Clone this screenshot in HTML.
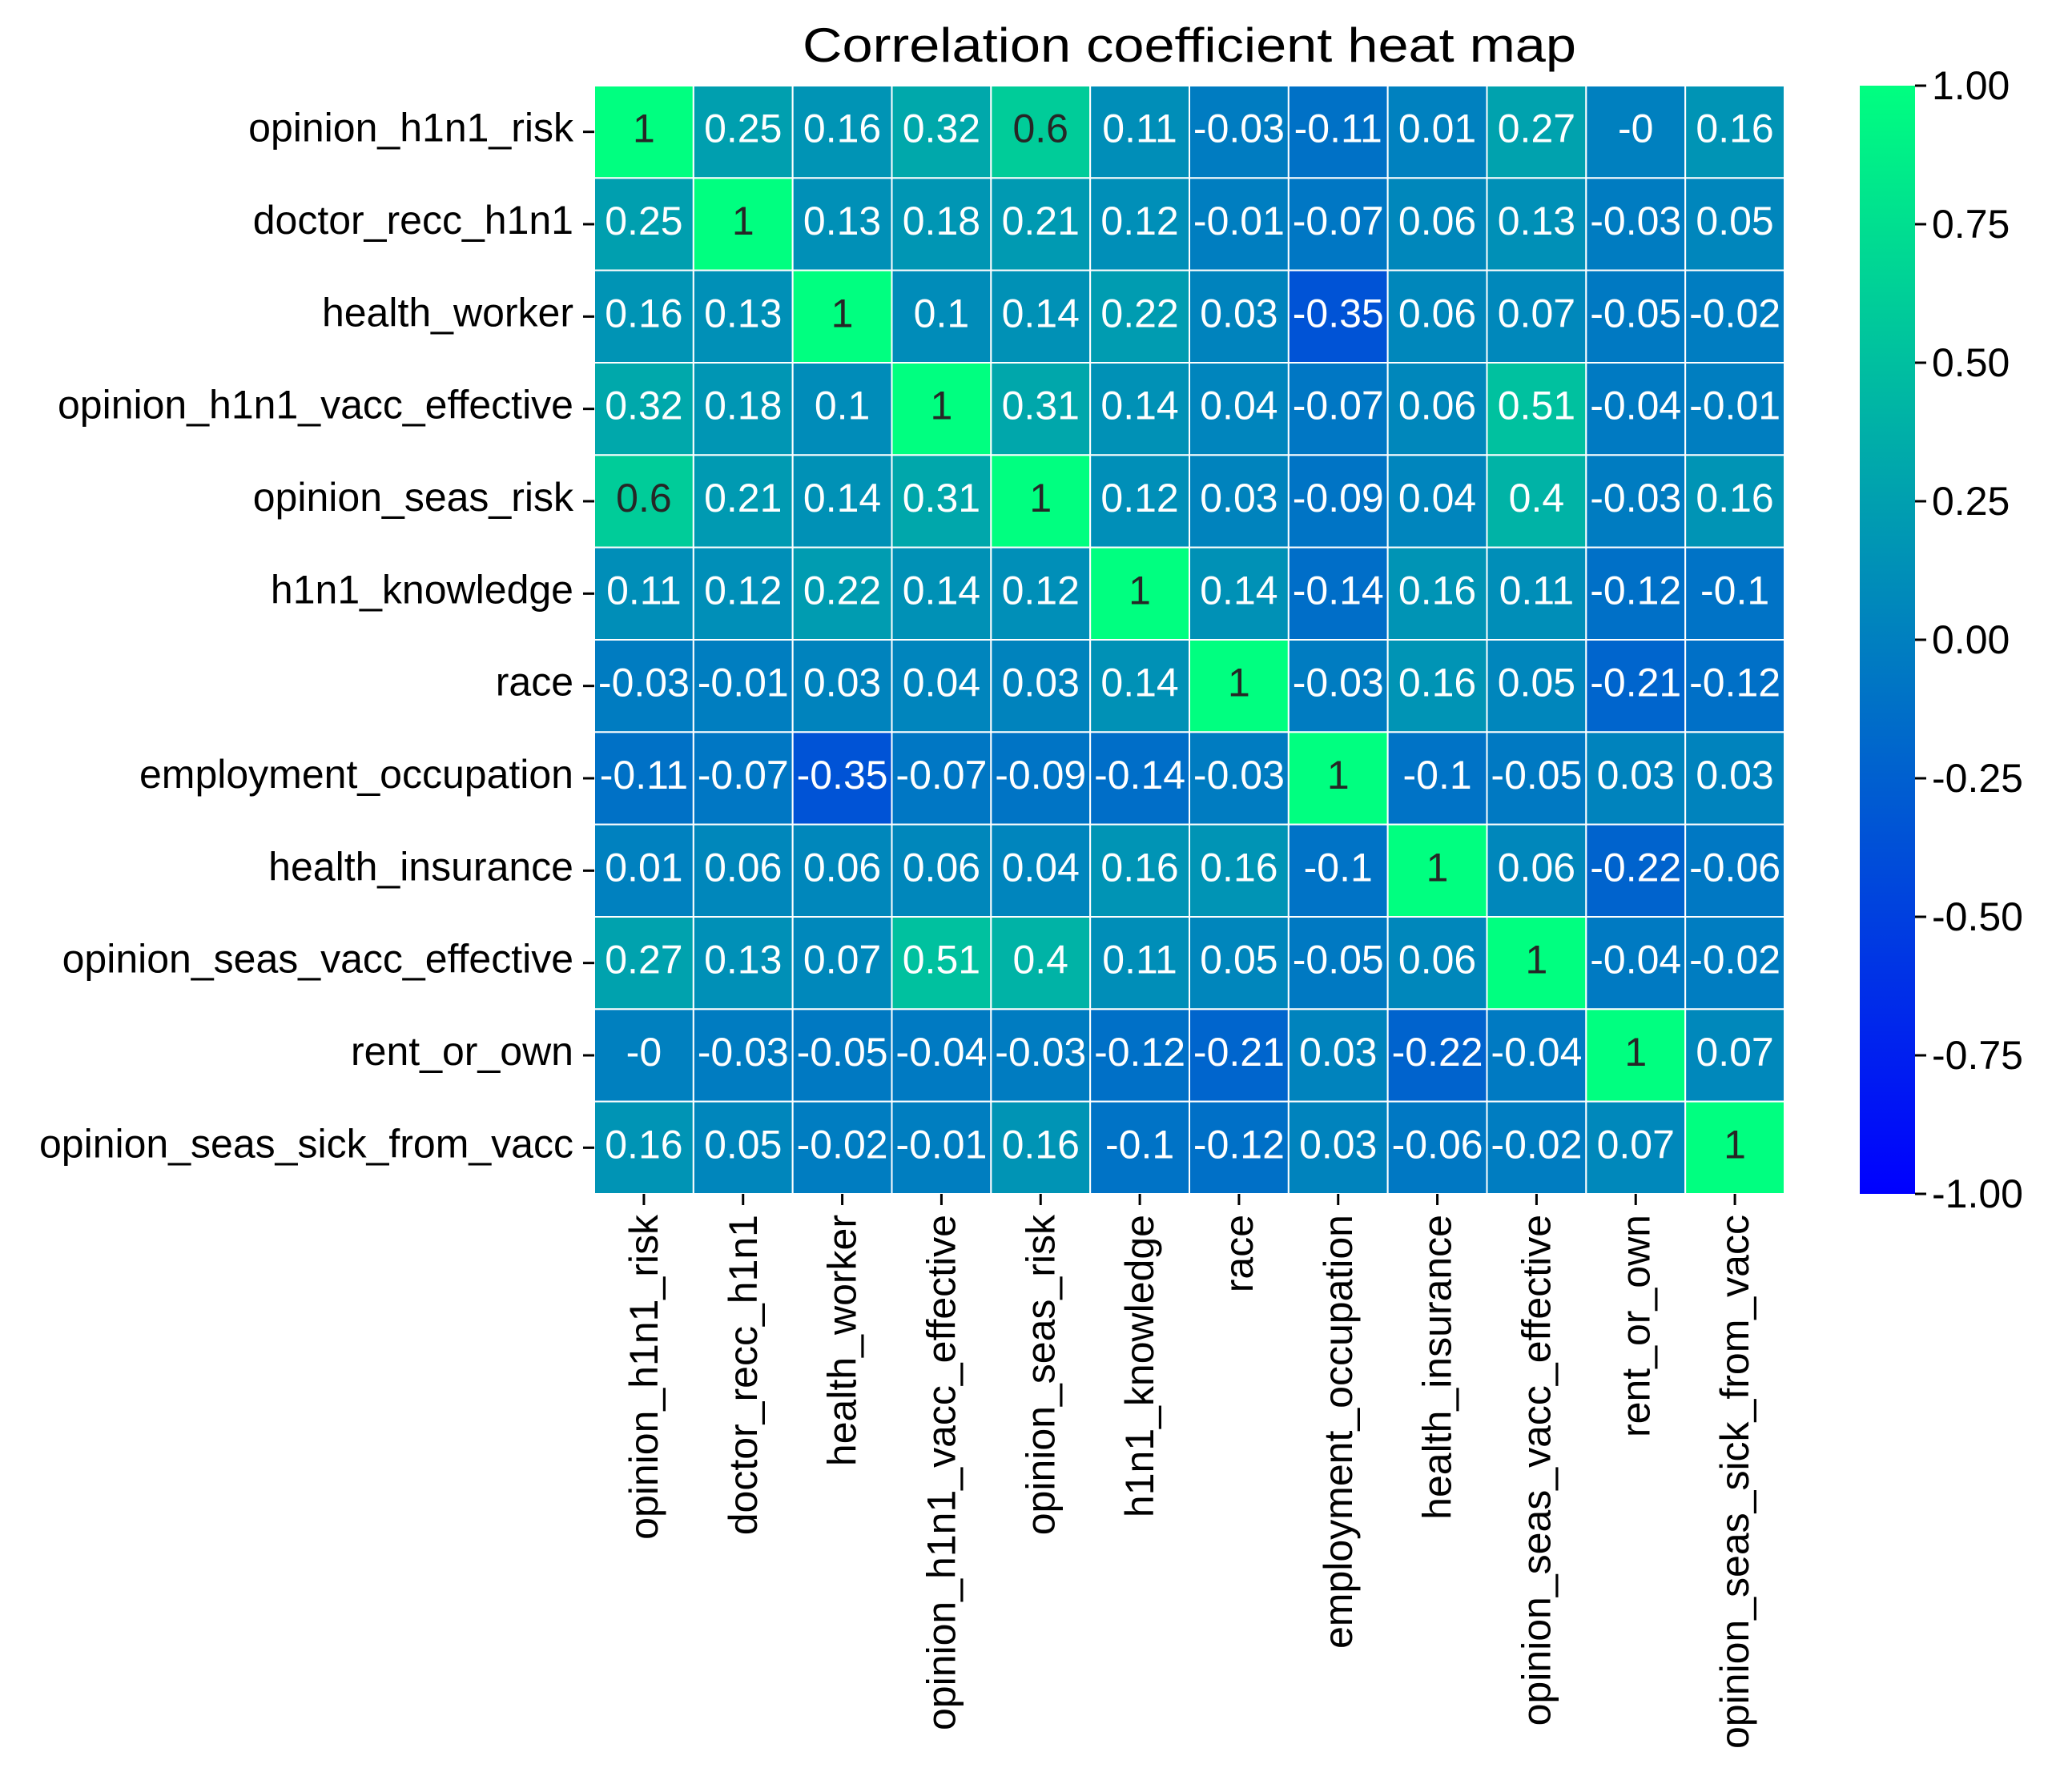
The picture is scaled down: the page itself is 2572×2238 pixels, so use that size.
<!DOCTYPE html>
<html><head><meta charset="utf-8"><style>
html,body{margin:0;padding:0;background:#fff}
svg text{font-family:"Liberation Sans",sans-serif}
</style></head><body>
<svg id="chart" width="2572" height="2233" viewBox="0 0 2572 2233" xmlns="http://www.w3.org/2000/svg">
<defs><linearGradient id="cbg" x1="0" y1="1" x2="0" y2="0"><stop offset="0" stop-color="#0000ff"/><stop offset="1" stop-color="#00ff80"/></linearGradient></defs>
<text x="1485" y="77" font-size="60" text-anchor="middle" textLength="966" lengthAdjust="spacingAndGlyphs">Correlation coefficient heat map</text>
<g id="cells"></g><g id="xt"></g><g id="yt"></g>
<rect x="2322" y="107" width="69" height="1384" fill="url(#cbg)"/>
<g id="cb"></g>
</svg>
<script>
const labels = ["opinion_h1n1_risk","doctor_recc_h1n1","health_worker","opinion_h1n1_vacc_effective","opinion_seas_risk","h1n1_knowledge","race","employment_occupation","health_insurance","opinion_seas_vacc_effective","rent_or_own","opinion_seas_sick_from_vacc"];
const values = [
[1,0.25,0.16,0.32,0.6,0.11,-0.03,-0.11,0.01,0.27,-0,0.16],
[0.25,1,0.13,0.18,0.21,0.12,-0.01,-0.07,0.06,0.13,-0.03,0.05],
[0.16,0.13,1,0.1,0.14,0.22,0.03,-0.35,0.06,0.07,-0.05,-0.02],
[0.32,0.18,0.1,1,0.31,0.14,0.04,-0.07,0.06,0.51,-0.04,-0.01],
[0.6,0.21,0.14,0.31,1,0.12,0.03,-0.09,0.04,0.4,-0.03,0.16],
[0.11,0.12,0.22,0.14,0.12,1,0.14,-0.14,0.16,0.11,-0.12,-0.1],
[-0.03,-0.01,0.03,0.04,0.03,0.14,1,-0.03,0.16,0.05,-0.21,-0.12],
[-0.11,-0.07,-0.35,-0.07,-0.09,-0.14,-0.03,1,-0.1,-0.05,0.03,0.03],
[0.01,0.06,0.06,0.06,0.04,0.16,0.16,-0.1,1,0.06,-0.22,-0.06],
[0.27,0.13,0.07,0.51,0.4,0.11,0.05,-0.05,0.06,1,-0.04,-0.02],
[-0,-0.03,-0.05,-0.04,-0.03,-0.12,-0.21,0.03,-0.22,-0.04,1,0.07],
[0.16,0.05,-0.02,-0.01,0.16,-0.1,-0.12,0.03,-0.06,-0.02,0.07,1]];
const cbTicks = [1,0.75,0.5,0.25,0,-0.25,-0.5,-0.75,-1];
const cbTickLabels = ["1.00","0.75","0.50","0.25","0.00","-0.25","-0.50","-0.75","-1.00"];

const NS="http://www.w3.org/2000/svg";
const L=742,T=107,W=1486,H=1384,n=labels.length,cw=W/n,ch=H/n;
const xs=i=>L+i*cw, ys=j=>T+j*ch;
const cbY=v=>T+H*(1-(v+1)/2);
function col(v){const t=(v+1)/2;return `rgb(0,${Math.round(255*t)},${Math.round(255-127.5*t)})`;}
function fmt(v){return (v===0&&1/v<0)?"-0":String(v);}
function mk(tag,attrs,parent,txt){const e=document.createElementNS(NS,tag);for(const k in attrs)e.setAttribute(k,attrs[k]);if(txt!==undefined)e.textContent=txt;parent.appendChild(e);return e;}
const cells=document.getElementById('cells'),xt=document.getElementById('xt'),yt=document.getElementById('yt'),cb=document.getElementById('cb');
for(let r=0;r<n;r++)for(let c=0;c<n;c++){
  const v=values[r][c];
  const rc=mk('rect',{x:xs(c),y:ys(r),width:cw,height:ch,fill:col(v),stroke:'#fff','stroke-width':2},cells);
  
  
  const tx=mk('text',{x:xs(c)+cw/2,y:ys(r)+ch/2+13,'font-size':50,'text-anchor':'middle',fill:v>=0.55?'#262626':'#fff'},cells,fmt(v));
  
  
}
labels.forEach((lb,i)=>{
  const cx=xs(i)+cw/2;
  mk('line',{x1:cx,y1:T+H,x2:cx,y2:T+H+14,stroke:'#000','stroke-width':3},xt);
  const t=mk('text',{transform:`translate(${cx+17},${T+H+26}) rotate(-90)`,'font-size':50,'text-anchor':'end'},xt,lb);
  
  
  const cy=ys(i)+ch/2;
  mk('line',{x1:L-14,y1:cy,x2:L,y2:cy,stroke:'#000','stroke-width':3},yt);
  const u=mk('text',{x:L-26,y:cy+12,'font-size':50,'text-anchor':'end'},yt,lb);
  
  
});
cbTicks.forEach((v,i)=>{
  const y=cbY(v);
  mk('line',{x1:2391,y1:y,x2:2405,y2:y,stroke:'#000','stroke-width':3},cb);
  const t=mk('text',{x:2412,y:y+17,'font-size':50},cb,cbTickLabels[i]);
  
  
});
</script>
</body></html>
